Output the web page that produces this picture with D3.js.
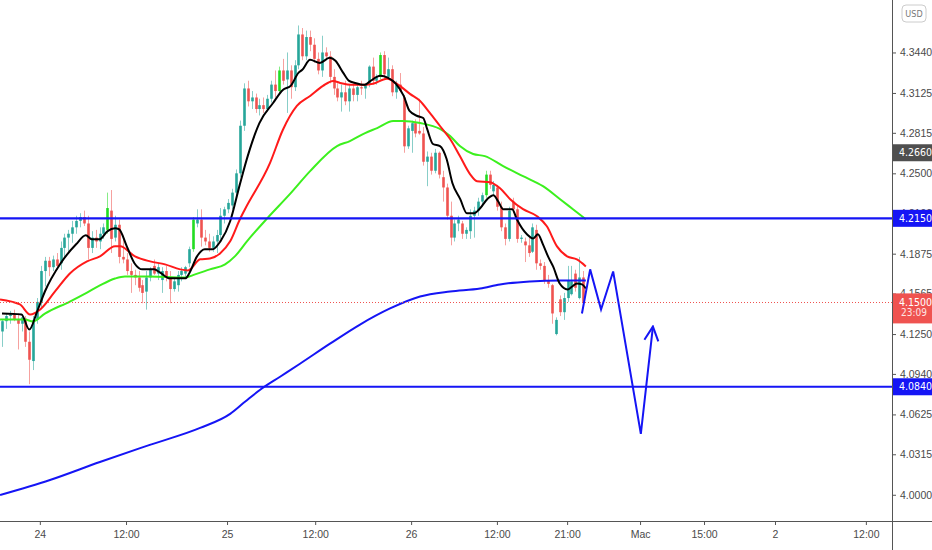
<!DOCTYPE html>
<meta charset="utf-8">
<style>
  html, body { margin: 0; padding: 0; background: #fff; }
  svg { display: block; font-family: "Liberation Sans Narrow", "DejaVu Sans Condensed", "Liberation Sans", sans-serif; }
</style>
<body>
<div id="chart"></div>
<script src="https://d3js.org/d3.v7.min.js"></script>
<script>
// ——— data (30 min bars, [open, high, low, close]) ———
const candles = [
  [4.127,4.136,4.115,4.135],[4.135,4.141,4.129,4.139],[4.139,4.143,4.133,4.140],[4.140,4.144,4.135,4.136],
  [4.136,4.141,4.113,4.133],[4.133,4.139,4.127,4.138],[4.137,4.139,4.115,4.119],[4.119,4.127,4.086,4.105],
  [4.104,4.139,4.097,4.136],[4.136,4.153,4.133,4.150],[4.150,4.178,4.146,4.174],[4.174,4.185,4.162,4.182],
  [4.182,4.185,4.170,4.177],[4.177,4.186,4.174,4.183],[4.183,4.188,4.175,4.178],[4.180,4.197,4.175,4.192],
  [4.192,4.203,4.185,4.200],[4.200,4.206,4.189,4.203],[4.203,4.213,4.196,4.208],[4.208,4.217,4.203,4.213],
  [4.213,4.219,4.208,4.216],[4.216,4.221,4.209,4.211],[4.211,4.217,4.183,4.192],[4.192,4.205,4.188,4.200],
  [4.200,4.206,4.192,4.197],[4.197,4.208,4.191,4.203],[4.203,4.211,4.199,4.208],[4.206,4.235,4.203,4.223],
  [4.221,4.237,4.188,4.199],[4.200,4.217,4.197,4.210],[4.210,4.214,4.180,4.185],[4.185,4.200,4.180,4.183],
  [4.183,4.188,4.171,4.174],[4.174,4.180,4.157,4.171],[4.171,4.175,4.163,4.169],[4.169,4.174,4.158,4.161],
  [4.163,4.167,4.149,4.157],[4.158,4.174,4.144,4.169],[4.169,4.177,4.166,4.175],[4.178,4.183,4.171,4.172],
  [4.172,4.180,4.167,4.177],[4.167,4.177,4.157,4.174],[4.174,4.178,4.166,4.169],[4.169,4.174,4.149,4.160],
  [4.160,4.169,4.158,4.166],[4.163,4.174,4.158,4.171],[4.171,4.177,4.166,4.174],[4.172,4.178,4.169,4.177],
  [4.180,4.193,4.177,4.191],[4.191,4.216,4.189,4.214],[4.211,4.222,4.208,4.214],[4.214,4.222,4.193,4.200],
  [4.200,4.206,4.194,4.197],[4.197,4.203,4.189,4.192],[4.192,4.201,4.189,4.197],[4.197,4.206,4.188,4.202],
  [4.202,4.223,4.199,4.217],[4.217,4.224,4.211,4.222],[4.222,4.230,4.219,4.227],[4.225,4.238,4.222,4.235],
  [4.235,4.253,4.231,4.250],[4.250,4.291,4.247,4.287],[4.287,4.320,4.283,4.316],[4.316,4.322,4.302,4.306],
  [4.306,4.314,4.300,4.309],[4.309,4.312,4.297,4.300],[4.300,4.308,4.295,4.303],[4.303,4.309,4.297,4.300],
  [4.300,4.311,4.298,4.308],[4.308,4.322,4.305,4.319],[4.319,4.330,4.309,4.314],[4.314,4.333,4.311,4.330],
  [4.330,4.339,4.319,4.322],[4.323,4.344,4.297,4.330],[4.330,4.334,4.308,4.317],[4.317,4.338,4.314,4.334],
  [4.334,4.365,4.331,4.358],[4.358,4.363,4.338,4.341],[4.341,4.361,4.338,4.356],[4.356,4.361,4.345,4.350],
  [4.350,4.355,4.336,4.339],[4.339,4.344,4.327,4.330],[4.330,4.357,4.325,4.344],[4.344,4.348,4.338,4.341],
  [4.341,4.345,4.320,4.325],[4.325,4.331,4.311,4.316],[4.316,4.320,4.306,4.309],[4.309,4.319,4.298,4.313],
  [4.313,4.322,4.303,4.306],[4.306,4.319,4.298,4.316],[4.316,4.320,4.306,4.311],[4.311,4.319,4.306,4.317],
  [4.317,4.322,4.311,4.316],[4.316,4.320,4.308,4.319],[4.319,4.334,4.317,4.333],[4.333,4.340,4.319,4.322],
  [4.322,4.327,4.319,4.325],[4.325,4.344,4.323,4.342],[4.342,4.345,4.323,4.327],[4.325,4.340,4.323,4.331],
  [4.331,4.334,4.310,4.313],[4.313,4.322,4.308,4.319],[4.319,4.328,4.313,4.314],[4.309,4.311,4.266,4.271],
  [4.271,4.287,4.269,4.285],[4.283,4.291,4.266,4.289],[4.289,4.292,4.278,4.281],[4.283,4.308,4.280,4.281],
  [4.281,4.286,4.256,4.259],[4.259,4.267,4.240,4.263],[4.263,4.266,4.249,4.252],[4.252,4.269,4.250,4.266],
  [4.266,4.267,4.246,4.249],[4.247,4.252,4.228,4.239],[4.239,4.242,4.214,4.217],[4.217,4.228,4.194,4.200],
  [4.200,4.214,4.197,4.211],[4.211,4.217,4.205,4.214],[4.211,4.213,4.199,4.203],[4.203,4.208,4.199,4.206],
  [4.205,4.222,4.199,4.217],[4.217,4.224,4.200,4.221],[4.221,4.231,4.217,4.228],[4.228,4.235,4.225,4.233],
  [4.233,4.252,4.231,4.249],[4.249,4.252,4.238,4.241],[4.236,4.244,4.233,4.241],[4.239,4.241,4.221,4.224],
  [4.224,4.228,4.205,4.208],[4.208,4.211,4.194,4.199],[4.199,4.224,4.197,4.221],[4.228,4.231,4.219,4.222],
  [4.222,4.225,4.196,4.199],[4.199,4.202,4.196,4.200],[4.197,4.200,4.181,4.194],[4.194,4.200,4.185,4.188],
  [4.189,4.211,4.188,4.208],[4.206,4.210,4.175,4.180],[4.180,4.183,4.175,4.178],[4.178,4.181,4.164,4.167],
  [4.167,4.171,4.161,4.164],[4.163,4.164,4.133,4.141],[4.125,4.138,4.124,4.136],[4.152,4.155,4.139,4.142],
  [4.142,4.157,4.136,4.153],[4.153,4.178,4.150,4.167],[4.156,4.178,4.155,4.166],[4.172,4.175,4.158,4.161],
  [4.153,4.185,4.152,4.169],[4.169,4.174,4.147,4.150]
];
// bars painted bright green by the indicator
const brightBars = [27, 49, 71, 97, 124];

// moving averages, [bar, value]
const maBlack = [[0,4.1409],[5,4.1402],[7,4.1285],[9,4.1425],[11,4.1581],[15,4.1799],[19,4.1948],[21.5,4.2018],
  [23,4.1987],[25,4.1987],[27,4.2049],[29,4.2072],[30,4.2065],[32,4.1932],[34,4.1799],[36,4.1753],[39,4.1753],
  [40.5,4.1729],[43,4.1683],[47,4.1683],[48,4.1721],[50,4.1854],[52,4.1909],[54,4.1909],[56,4.1971],[58.5,4.2127],
  [61,4.2416],[63,4.2634],[66,4.2891],[69.5,4.3047],[72,4.3149],[74,4.3180],[76,4.3281],[77,4.3305],[79,4.3383],
  [81.5,4.3359],[84,4.3398],[85.5,4.3375],[87.5,4.3281],[89,4.3219],[90.5,4.3203],[93,4.3188],[94.5,4.3219],
  [97,4.3258],[99,4.3242],[101,4.3196],[103,4.3102],[104.5,4.2985],[106.5,4.2946],[108,4.2930],[109,4.2845],
  [110.5,4.2728],[112.3,4.2712],[114,4.2611],[115.5,4.2423],[117.5,4.2299],[119.2,4.2189],[121,4.2189],
  [122.6,4.2228],[124.4,4.2299],[126,4.2330],[127.2,4.2283],[128.5,4.2221],[130.8,4.2221],[132,4.2143],
  [134.6,4.2026],[136.2,4.1994],[137.4,4.2026],[138.7,4.1948],[140,4.1854],[141.3,4.1776],[143,4.1643],
  [145,4.1597],[146.2,4.1620],[147.4,4.1643],[148.7,4.1636],[149.7,4.1604]];
const maRed = [[-0.5,4.1519],[4.6,4.1480],[7.2,4.1402],[9.8,4.1441],[13.6,4.1581],[17.4,4.1721],[21.8,4.1815],
  [25.1,4.1854],[29,4.1932],[30.3,4.1932],[34.1,4.1854],[38,4.1815],[41.8,4.1792],[45.7,4.1753],[47.7,4.1745],
  [50.8,4.1831],[53.3,4.1838],[55.9,4.1877],[58.5,4.1971],[61,4.2143],[62.3,4.2221],[68.7,4.2579],[72,4.2837],
  [75.6,4.3024],[79,4.3102],[82.3,4.3180],[84.9,4.3219],[86.7,4.3203],[90,4.3188],[93.1,4.3188],[95.1,4.3196],
  [98.7,4.3235],[102,4.3180],[104.6,4.3118],[107.2,4.3063],[109.7,4.2970],[112.3,4.2868],[114.9,4.2767],
  [117.4,4.2634],[120,4.2494],[121.8,4.2439],[125.1,4.2431],[127.7,4.2384],[130.3,4.2299],[133.6,4.2221],
  [137.2,4.2166],[139.7,4.2088],[142.3,4.1932],[144.9,4.1854],[147.4,4.1830],[149.7,4.1776]];
const maGreen = [[-0.5,4.1363],[5.9,4.1363],[7.9,4.1347],[11,4.1409],[17.4,4.1503],[21.8,4.1573],[25.1,4.1628],
  [29,4.1682],[31.5,4.1698],[37.9,4.1698],[46.9,4.1690],[49.5,4.1714],[53.3,4.1753],[57.2,4.1792],[59.7,4.1854],
  [62.8,4.1971],[68,4.2150],[73.8,4.2338],[79,4.2517],[85.9,4.2712],[89.2,4.2751],[93.1,4.2813],[96.2,4.2852],
  [100.3,4.2907],[102.8,4.2907],[107.2,4.2891],[112.3,4.2845],[114.9,4.2790],[117.4,4.2712],[120.8,4.2650],
  [123.8,4.2634],[128.5,4.2556],[133.6,4.2478],[138.7,4.2400],[143.1,4.2299],[146.4,4.2221],[149.7,4.2143]];
const maBlue = [[-0.5,3.9998],[12.3,4.0115],[25.1,4.0255],[37.9,4.0388],[50.8,4.0520],[58.5,4.0629],[62.3,4.0723],
  [66.2,4.0817],[71.3,4.0918],[76.4,4.1019],[84.1,4.1175],[91.8,4.1324],[99.5,4.1449],[107.2,4.1542],
  [114.9,4.1581],[122.6,4.1604],[127.7,4.1636],[135.4,4.1659],[143.1,4.1667],[149.7,4.1667]];

// drawn zigzag forecast, [bar, price]
const forecast = [[148.7,4.1410],[150.8,4.1753],[153.6,4.1441],[156.7,4.1737],[163.8,4.0474],[166.9,4.1308]];

const levels = [4.2150, 4.0840];
const lastPrice = 4.1500;
const countdown = "23:09";
const markPrice = 4.2660;

const priceTicks = [4.0000, 4.0315, 4.0625, 4.0940, 4.1250, 4.1565, 4.1875, 4.2190, 4.2500, 4.2815, 4.3125, 4.3440];
const timeTickBars = [9.7, 31.8, 57.7, 80.3, 104.9, 126.9, 144.9, 163.6, 180, 198.2, 221.5];
const timeTickLabels = ["24", "12:00", "25", "12:00", "26", "12:00", "21:00", "Mac", "15:00", "2", "12:00"];

// ——— layout ———
const W = 932, H = 550;
const plotW = 892, plotH = 521;

const x = d3.scaleLinear().domain([-0.513, 228.2]).range([0, plotW]);
const y = d3.scaleLinear().domain([3.9796, 4.3848]).range([plotH, 0]);

const svg = d3.select("#chart").append("svg")
    .attr("width", W)
    .attr("height", H);

svg.append("defs").append("clipPath").attr("id", "plot")
  .append("rect").attr("width", plotW).attr("height", plotH);

svg.select("defs").append("marker")
    .attr("id", "arrow")
    .attr("viewBox", "-16 -9 18 18")
    .attr("markerUnits", "userSpaceOnUse")
    .attr("markerWidth", 18).attr("markerHeight", 18)
    .attr("refX", 0).attr("refY", 0)
    .attr("orient", "auto")
  .append("path")
    .attr("d", "M-14,-7L0,0L-14,7")
    .attr("fill", "none")
    .attr("stroke", "#1515f5")
    .attr("stroke-width", 2);

const plot = svg.append("g").attr("clip-path", "url(#plot)");

// ——— candles ———
const upCol = "#26a69a", downCol = "#ef5350", brightCol = "#22dd22";
const bw = 2.6;
const colorOf = (d, i) => brightBars.includes(i) ? brightCol : (d[3] >= d[0] ? upCol : downCol);

const cg = plot.append("g").selectAll("g")
  .data(candles)
  .join("g");

cg.append("line")
    .attr("x1", (d, i) => Math.round(x(i)) + 0.5)
    .attr("x2", (d, i) => Math.round(x(i)) + 0.5)
    .attr("y1", d => y(d[1]))
    .attr("y2", d => y(d[2]))
    .attr("stroke", colorOf)
    .attr("stroke-opacity", 0.55);

cg.append("rect")
    .attr("x", (d, i) => Math.round(x(i)) + 0.5 - bw / 2)
    .attr("width", bw)
    .attr("y", d => y(Math.max(d[0], d[3])))
    .attr("height", d => Math.max(1, Math.abs(y(d[0]) - y(d[3]))))
    .attr("fill", colorOf);

// ——— moving averages ———
const line = d3.line()
    .x(d => x(d[0]))
    .y(d => y(d[1]))
    .curve(d3.curveMonotoneX);

[[maBlue, "#1515f5"], [maGreen, "#3cf01e"], [maRed, "#ff1a1a"], [maBlack, "#000"]].forEach(([s, c]) => {
  plot.append("path")
      .attr("d", line(s))
      .attr("fill", "none")
      .attr("stroke", c)
      .attr("stroke-width", 2)
      .attr("stroke-linejoin", "round");
});

// last price dotted line
plot.append("line")
    .attr("x1", 0).attr("x2", plotW)
    .attr("y1", Math.round(y(lastPrice)) + 0.5).attr("y2", Math.round(y(lastPrice)) + 0.5)
    .attr("stroke", downCol)
    .attr("stroke-dasharray", "1,2");

// horizontal levels
plot.selectAll(".level")
  .data(levels)
  .join("line")
    .attr("class", "level")
    .attr("x1", 0).attr("x2", plotW)
    .attr("y1", d => y(d)).attr("y2", d => y(d))
    .attr("stroke", "#1515f5")
    .attr("stroke-width", 2.2);

// forecast zigzag
svg.append("path")
    .attr("d", d3.line().x(d => x(d[0])).y(d => y(d[1]))(forecast))
    .attr("fill", "none")
    .attr("stroke", "#1515f5")
    .attr("stroke-width", 2)
    .attr("stroke-linejoin", "miter")
    .attr("marker-end", "url(#arrow)");

// ——— axes ———
const axisCol = "#555";

const yAxis = svg.append("g")
    .attr("transform", `translate(${plotW},0)`)
    .call(d3.axisRight(y).tickValues(priceTicks).tickFormat(d3.format(".4f")).tickSize(4).tickPadding(4));
yAxis.select(".domain").remove();

const xAxis = svg.append("g")
    .attr("transform", `translate(0,${plotH})`)
    .call(d3.axisBottom(x).tickValues(timeTickBars).tickFormat((d, i) => timeTickLabels[i]).tickSize(4).tickPadding(6));
xAxis.select(".domain").remove();

svg.selectAll(".tick text")
    .attr("fill", "#4a4a4a")
    .style("font-family", null)
    .attr("font-family", null)
    .attr("font-size", 10.5);
svg.selectAll(".tick line").attr("stroke", axisCol);

svg.append("line")
    .attr("x1", plotW + 0.5).attr("x2", plotW + 0.5)
    .attr("y1", 0).attr("y2", H)
    .attr("stroke", axisCol);
svg.append("line")
    .attr("x1", 0).attr("x2", W)
    .attr("y1", plotH + 0.5).attr("y2", plotH + 0.5)
    .attr("stroke", axisCol);

// ——— price labels on the scale ———
function tag(value, fill, h) {
  const g = svg.append("g").attr("transform", `translate(${plotW + 1},${y(value)})`);
  g.append("rect")
      .attr("x", 0).attr("y", -8.5)
      .attr("width", 39).attr("height", h)
      .attr("fill", fill);
  g.append("text")
      .attr("x", 6).attr("dy", "0.35em")
      .attr("fill", "#fff")
      .attr("font-size", 10.5)
      .text(d3.format(".4f")(value));
  return g;
}

levels.forEach(v => tag(v, "#1515f5", 17));
tag(markPrice, "#4f4f4f", 17);
const lp = tag(lastPrice, downCol, 30);
lp.append("text")
    .attr("x", 8).attr("y", 14)
    .attr("fill", "#fde5e4")
    .attr("font-size", 10)
    .text(countdown);

// currency box
const cur = svg.append("g").attr("transform", "translate(902,5)");
cur.append("rect")
    .attr("width", 24).attr("height", 17).attr("rx", 4)
    .attr("fill", "#fff")
    .attr("stroke", "#ccc");
cur.append("text")
    .attr("x", 12).attr("y", 12)
    .attr("text-anchor", "middle")
    .attr("fill", "#777")
    .attr("font-size", 9)
    .text("USD");
</script>
</body>
